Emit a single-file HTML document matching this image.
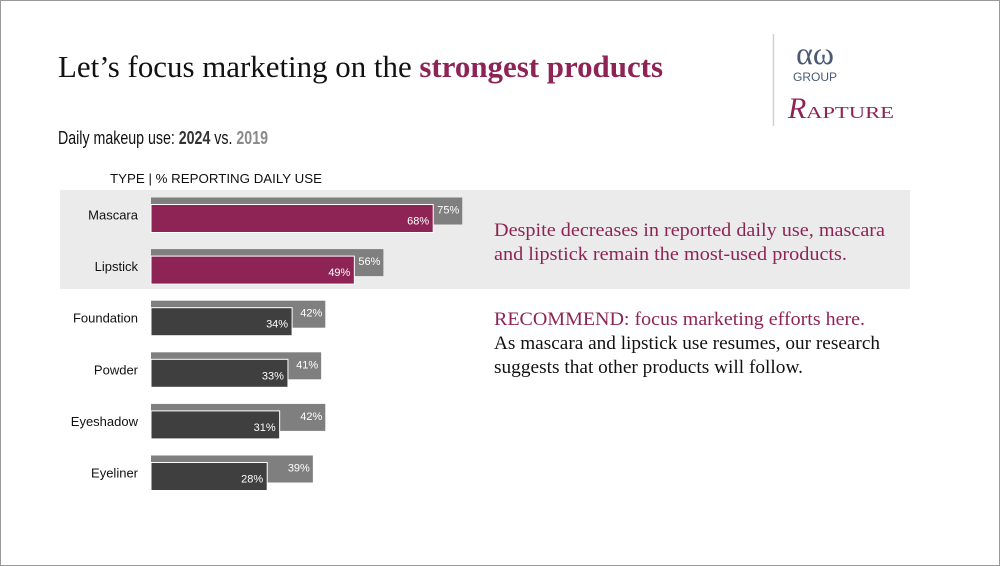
<!DOCTYPE html>
<html><head><meta charset="utf-8"><style>
html,body{margin:0;padding:0;background:#fff;}
svg{display:block;}
.serif{font-family:"Liberation Serif",serif;}
.sans{font-family:"Liberation Sans",sans-serif;}
</style></head><body>
<svg id="chart" width="1000" height="566" viewBox="0 0 1000 566">
<rect x="0.5" y="0.5" width="999" height="565" fill="#fff" stroke="#9a9a9a"/>
<text class="serif" x="58" y="77" font-size="31" fill="#111" textLength="605" lengthAdjust="spacingAndGlyphs">Let’s focus marketing on the <tspan fill="#8e2456" font-weight="bold">strongest products</tspan></text>
<line x1="773.5" y1="34" x2="773.5" y2="126" stroke="#d0d0d0" stroke-width="1.5"/>
<text class="serif" x="815" y="64" font-size="32" fill="#4a5a72" text-anchor="middle">αω</text>
<text class="sans" x="815" y="81" font-size="12" fill="#4a5a72" text-anchor="middle">GROUP</text>
<text class="serif" x="788" y="118" font-size="30" font-style="italic" fill="#8e2456">R</text>
<text class="serif" x="806" y="118" font-size="17" fill="#8e2456" textLength="88" lengthAdjust="spacingAndGlyphs">APTURE</text>
<text class="sans" x="58" y="144" font-size="18" fill="#111" textLength="210" lengthAdjust="spacingAndGlyphs">Daily makeup use: <tspan font-weight="bold" fill="#333">2024</tspan> vs. <tspan font-weight="bold" fill="#8a8a8a">2019</tspan></text>
<text class="sans" x="110" y="183" font-size="13" fill="#111" textLength="212" lengthAdjust="spacingAndGlyphs">TYPE  |  % REPORTING DAILY USE</text>
<rect x="60" y="190" width="850" height="99" fill="#ebebeb"/>
<g id="bars"></g>
<g class="serif" font-size="18.5">
<text x="494" y="236" fill="#8e2456" textLength="391" lengthAdjust="spacingAndGlyphs">Despite decreases in reported daily use, mascara</text>
<text x="494" y="260" fill="#8e2456" textLength="353" lengthAdjust="spacingAndGlyphs">and lipstick remain the most-used products.</text>
<text x="494" y="325" fill="#8e2456" textLength="371" lengthAdjust="spacingAndGlyphs">RECOMMEND: focus marketing efforts here.</text>
<text x="494" y="349" fill="#111" textLength="386" lengthAdjust="spacingAndGlyphs">As mascara and lipstick use resumes, our research</text>
<text x="494" y="373" fill="#111" textLength="309" lengthAdjust="spacingAndGlyphs">suggests that other products will follow.</text>
</g>
</svg>
<script>
const categories = ["Mascara","Lipstick","Foundation","Powder","Eyeshadow","Eyeliner"];
const values2024 = [68,49,34,33,31,28];
const values2019 = [75,56,42,41,42,39];
const highlighted = [true,true,false,false,false,false];

const NS = "http://www.w3.org/2000/svg";
const g = document.getElementById("bars");
const x0 = 151, scale = 4.15;
const xScale = v => x0 + v * scale;
const rowY = i => 197.5 + i * 51.6;
function mk(tag, attrs){ const e = document.createElementNS(NS, tag); for (const k in attrs) e.setAttribute(k, attrs[k]); g.appendChild(e); return e; }
categories.forEach((c, i) => {
  const y = rowY(i);
  const old = mk("rect", {x:x0, y:y, width:xScale(values2019[i])-x0, height:27, fill:"#7f7f7f"});
  
  
  const cur = mk("rect", {x:x0, y:y+7, width:xScale(values2024[i])-x0, height:28, fill: highlighted[i] ? "#8e2456" : "#3f3f3f", stroke:"#fff", "stroke-width":1});
  
  
  const lab = mk("text", {x:138, y:y+22, "text-anchor":"end", "font-size":13, fill:"#111", "font-family":"Liberation Sans, sans-serif"});
  lab.textContent = c;
  
  
  const v1 = mk("text", {x:xScale(values2024[i])-4, y:y+27, "text-anchor":"end", "font-size":11, fill:"#fff", "font-family":"Liberation Sans, sans-serif"});
  v1.textContent = values2024[i] + "%";
  
  
  const v2 = mk("text", {x:xScale(values2019[i])-3, y:y+16, "text-anchor":"end", "font-size":11, fill:"#fff", "font-family":"Liberation Sans, sans-serif"});
  v2.textContent = values2019[i] + "%";
  
  
});
</script>
</body></html>
